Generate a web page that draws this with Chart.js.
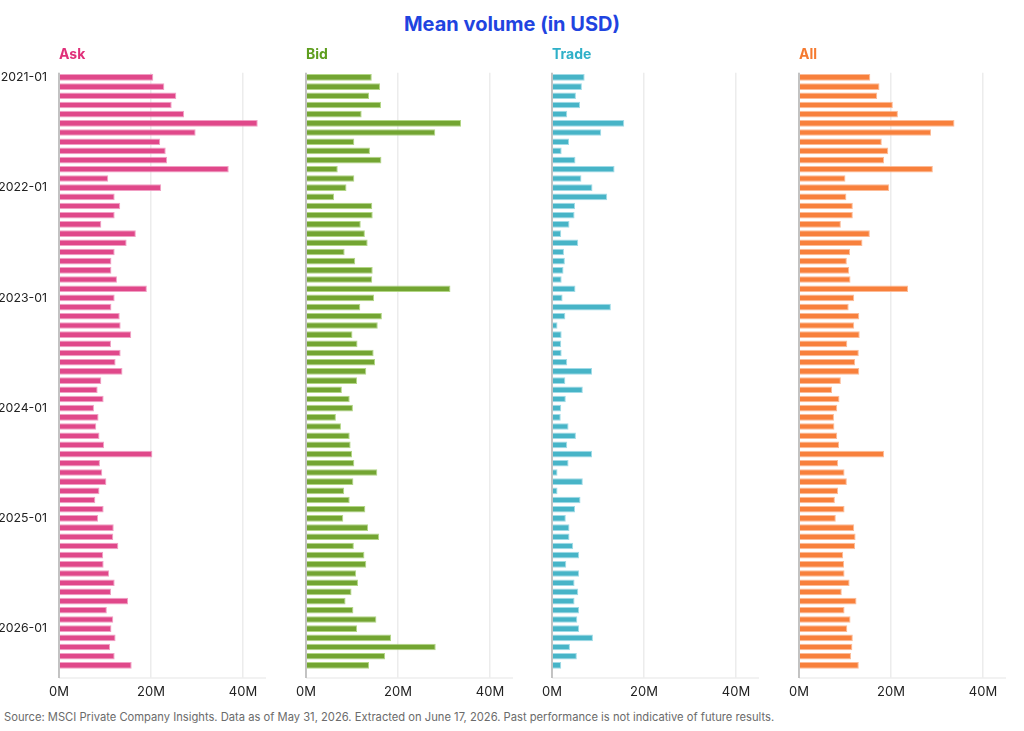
<!DOCTYPE html>
<html>
<head>
<meta charset="utf-8">
<script src="https://cdn.jsdelivr.net/npm/chart.js@4/dist/chart.umd.min.js"></script>
<style>
  body { margin: 0; background: #fff; font-family: Inter, sans-serif; }
  #wrap { position: relative; width: 1024px; height: 731px; }
  #title { position: absolute; left: 0; top: 12px; width: 1024px; text-align: center;
           font: bold 20px Inter, sans-serif; color: #1f44e0; }
  #source { position: absolute; left: 4px; top: 710px; font: 11.2px Inter, sans-serif; color: #6b6b6b; white-space: nowrap; }
  canvas { position: absolute; top: 40px; }
</style>
</head>
<body>
<div id="wrap">
  <div id="title">Mean volume (in USD)</div>
  <canvas id="c-ask"></canvas>
  <canvas id="c-bid"></canvas>
  <canvas id="c-trade"></canvas>
  <canvas id="c-all"></canvas>
  <div id="source">Source: MSCI Private Company Insights. Data as of May 31, 2026. Extracted on June 17, 2026. Past performance is not indicative of future results.</div>
</div>
<script>
var months = [
  '2021-01','2021-02','2021-03','2021-04','2021-05','2021-06','2021-07','2021-08','2021-09','2021-10','2021-11','2021-12',
  '2022-01','2022-02','2022-03','2022-04','2022-05','2022-06','2022-07','2022-08','2022-09','2022-10','2022-11','2022-12',
  '2023-01','2023-02','2023-03','2023-04','2023-05','2023-06','2023-07','2023-08','2023-09','2023-10','2023-11','2023-12',
  '2024-01','2024-02','2024-03','2024-04','2024-05','2024-06','2024-07','2024-08','2024-09','2024-10','2024-11','2024-12',
  '2025-01','2025-02','2025-03','2025-04','2025-05','2025-06','2025-07','2025-08','2025-09','2025-10','2025-11','2025-12',
  '2026-01','2026-02','2026-03','2026-04','2026-05'
];

// mean volume, millions of USD
var ask = [20.5,22.9,25.5,24.5,27.2,43.2,29.7,22.0,23.2,23.5,36.9,10.7,
  22.2,12.1,13.3,12.1,9.2,16.7,14.7,12.1,11.4,11.4,12.6,19.1,
  12.1,11.4,13.2,13.4,15.7,11.3,13.4,12.3,13.8,9.2,8.4,9.7,
  7.6,8.6,8.1,8.8,9.8,20.3,8.9,9.4,10.3,8.8,7.9,9.7,
  8.5,11.9,11.8,12.9,9.6,9.7,10.9,12.1,11.3,15.0,10.4,11.8,
  11.4,12.3,11.1,12.1,15.8];
var bid = [14.3,16.1,13.7,16.3,12.1,33.7,28.1,10.5,13.9,16.4,6.9,10.5,
  8.8,6.1,14.4,14.5,11.9,12.8,13.4,8.4,10.7,14.5,14.4,31.4,
  14.8,11.8,16.5,15.6,10.1,11.2,14.7,15.0,13.1,11.1,7.8,9.5,
  10.2,6.5,7.6,9.5,9.7,10.0,10.5,15.5,10.3,8.3,9.5,12.9,
  8.1,13.5,15.9,10.4,12.7,13.1,10.9,11.3,9.9,8.6,10.3,15.3,
  11.1,18.5,28.2,17.2,13.7];
var trade = [7.1,6.5,5.2,6.1,3.3,15.7,10.7,3.7,2.1,5.1,13.6,6.4,
  8.8,12.0,5.0,4.9,3.8,2.0,5.7,2.6,2.8,2.5,2.1,5.1,
  2.3,12.8,2.9,1.2,2.1,2.0,2.1,3.3,8.7,2.9,6.7,3.0,
  2.0,1.9,3.6,5.2,3.3,8.7,3.6,1.2,6.7,1.2,6.2,5.0,
  3.0,3.8,3.8,4.6,5.9,3.1,5.9,4.9,5.7,4.9,5.9,5.5,
  5.9,8.9,3.9,5.4,2.0];
var all = [15.5,17.5,17.0,20.4,21.5,33.8,28.7,18.0,19.4,18.5,29.1,10.1,
  19.6,10.3,11.7,11.7,9.1,15.4,13.8,11.1,10.4,10.9,11.2,23.7,
  12.0,10.8,13.1,12.0,13.2,10.5,13.0,12.2,13.1,9.1,7.2,8.8,
  8.3,7.6,7.7,8.3,8.7,18.5,8.5,9.9,10.4,8.5,7.8,9.9,
  8.0,12.0,12.3,12.2,9.6,9.8,9.9,11.0,9.3,12.5,9.9,11.2,
  10.5,11.7,11.6,11.3,13.0];

var xTicks = [0, 20, 40];

// little plugin for the axis lines that run past the plot bottom
var frameLines = {
  id: 'frameLines',
  afterDatasetsDraw: function(chart) {
    var a = chart.chartArea, ctx = chart.ctx;
    ctx.save();
    ctx.lineWidth = 1.5;
    ctx.strokeStyle = '#eeeeee';
    ctx.beginPath();
    ctx.moveTo(a.left, a.bottom + 8);
    ctx.lineTo(a.right, a.bottom + 8);
    ctx.stroke();
    ctx.strokeStyle = '#b5b5b5';
    ctx.beginPath();
    ctx.moveTo(a.left, a.top);
    ctx.lineTo(a.left, a.bottom + 8);
    ctx.stroke();
    ctx.restore();
  }
};

function drawPanel(id, left, label, values, fill, edge, titleColor, showYLabels) {
  var el = document.getElementById(id);
  el.style.left = left + 'px';
  el.width = 276;
  el.height = 670;
  el.style.width = '276px';
  el.style.height = '670px';

  new Chart(el, {
    type: 'bar',
    data: {
      labels: months,
      datasets: [{
        label: label,
        data: values,
        backgroundColor: fill,
        borderColor: edge,
        borderWidth: 1,
        barPercentage: 0.72,
        categoryPercentage: 1
      }]
    },
    options: {
      indexAxis: 'y',
      responsive: false,
      animation: false,
      layout: { padding: { left: 0, right: 10, top: 0, bottom: 0 } },
      plugins: {
        legend: { display: false },
        tooltip: { enabled: false },
        title: {
          display: true,
          text: label,
          align: 'start',
          fullSize: false,
          color: titleColor,
          font: { family: 'Inter', size: 14, weight: 'bold', lineHeight: 1.2 },
          padding: { top: 6, bottom: 10 }
        }
      },
      scales: {
        x: {
          min: 0,
          max: 45,
          afterFit: function(s) { s.height = 40; },
          afterBuildTicks: function(s) { s.ticks = xTicks.map(function(v) { return { value: v }; }); },
          grid: { color: '#ececec', lineWidth: 1.5, drawTicks: true, tickLength: 8 },
          border: { display: false },
          ticks: {
            padding: 6,
            color: '#222',
            font: { family: 'Inter', size: 13 },
            callback: function(v) { return v + 'M'; }
          }
        },
        y: {
          afterFit: function(s) { s.width = 59; },
          grid: { display: false },
          border: { display: false },
          ticks: {
            display: showYLabels,
            autoSkip: false,
            padding: 4,
            color: '#222',
            font: { family: 'Inter', size: 12.3 },
            callback: function(v) {
              var m = months[v];
              return m.slice(5) === '01' ? m : '';
            }
          }
        }
      }
    },
    plugins: [frameLines]
  });
}

drawPanel('c-ask', 0, 'Ask', ask, '#e0488a', 'rgba(240,150,190,0.9)', '#e0307a', true);
drawPanel('c-bid', 246.5, 'Bid', bid, '#73a532', 'rgba(170,210,120,0.9)', '#5e9e1e', false);
drawPanel('c-trade', 493, 'Trade', trade, '#47b4c7', 'rgba(150,215,228,0.9)', '#2eb0c8', false);
drawPanel('c-all', 739.5, 'All', all, '#f8803c', 'rgba(252,180,140,0.9)', '#f57a30', false);
</script>
</body>
</html>
